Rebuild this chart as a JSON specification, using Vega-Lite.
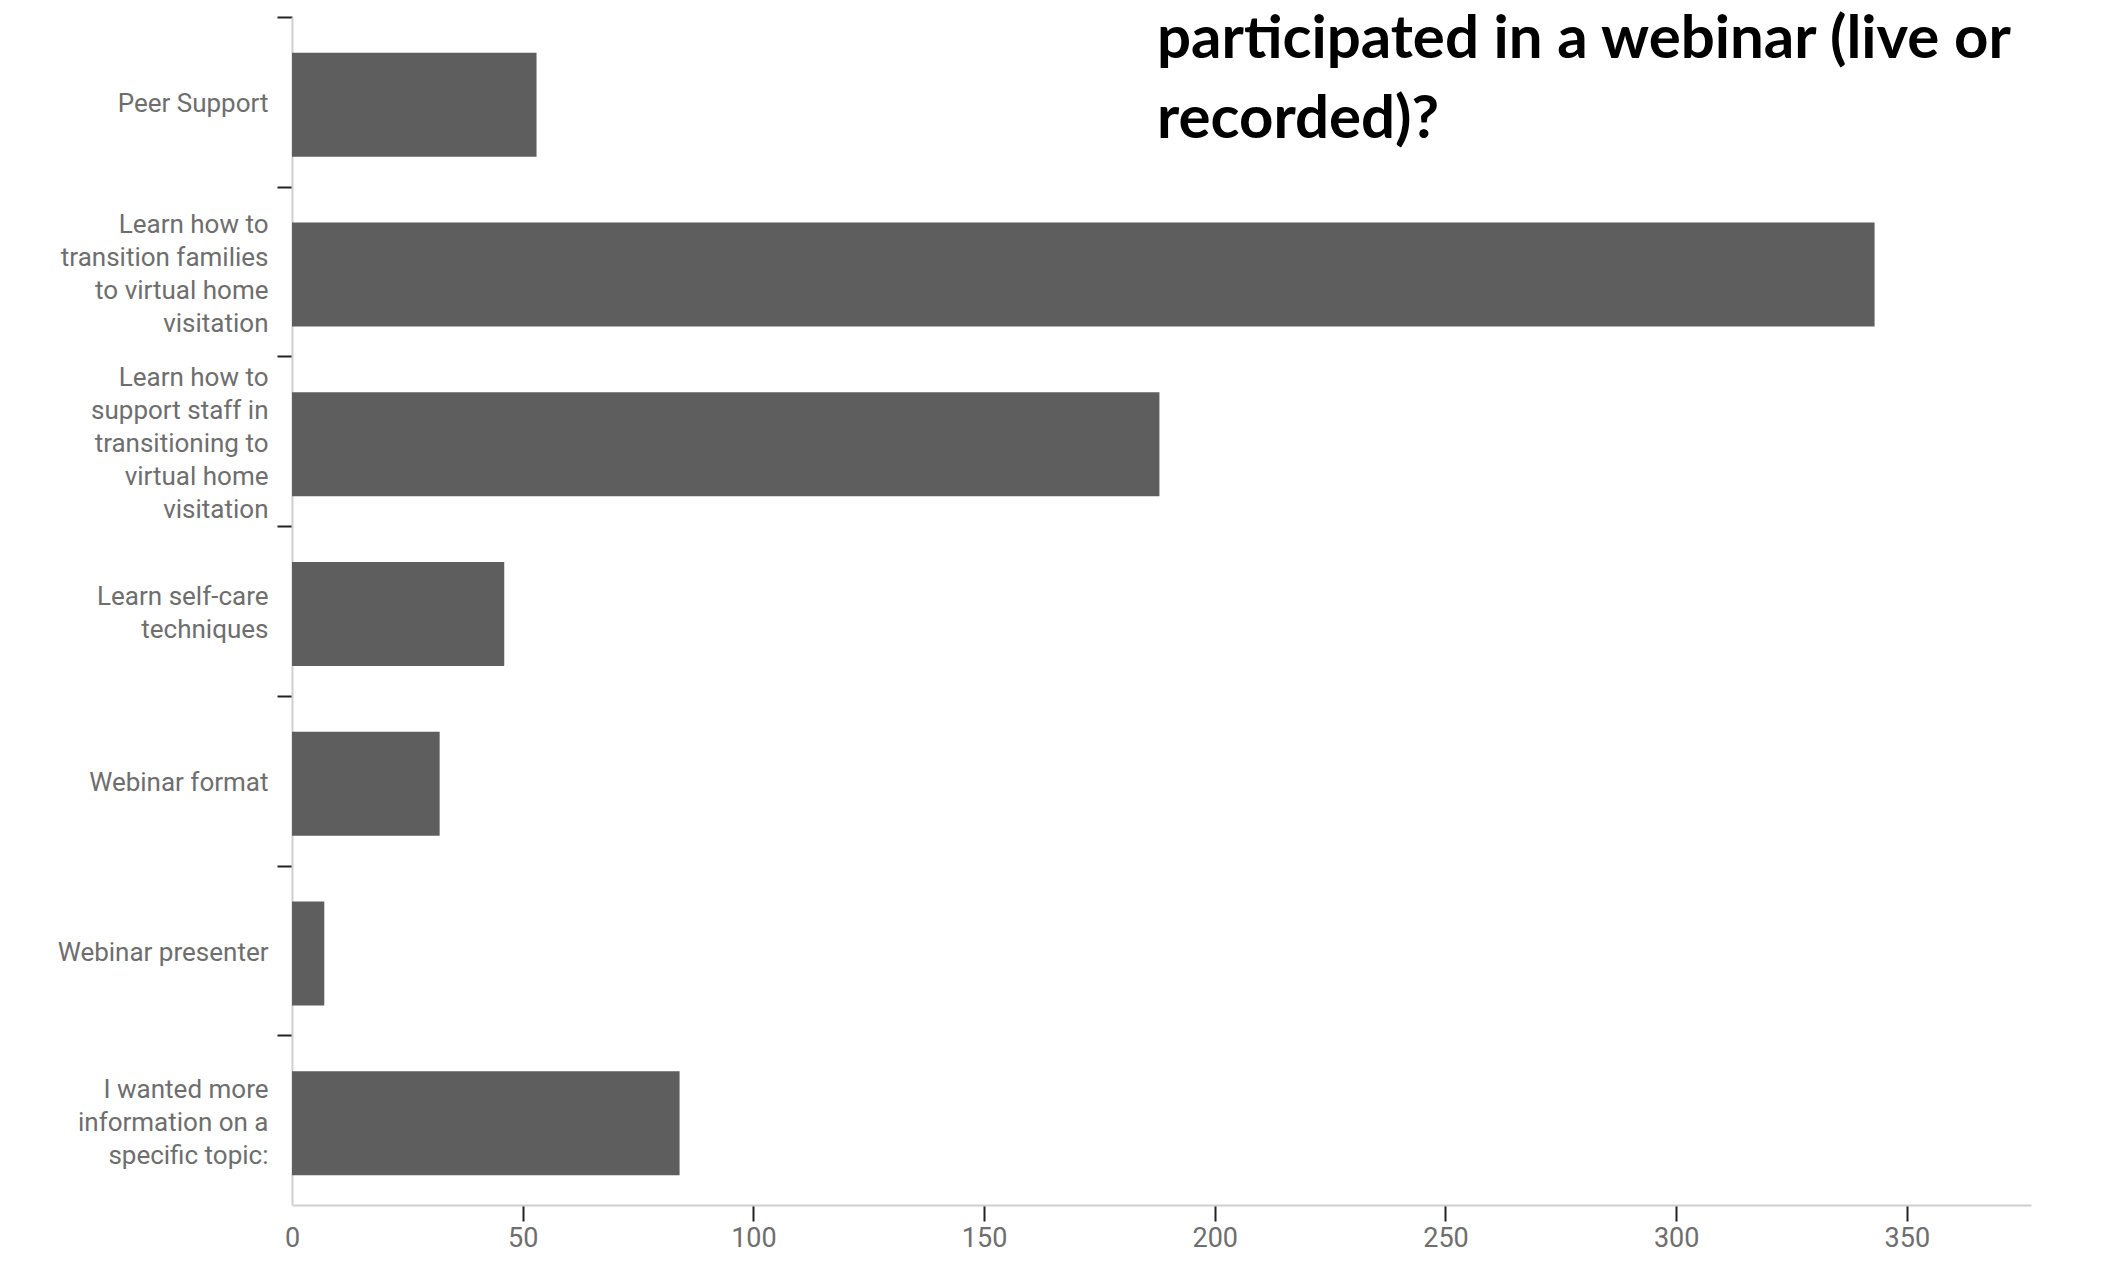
{
  "$schema": "https://vega.github.io/schema/vega-lite/v6.json",
  "width": 1739,
  "height": 1188,
  "autosize": {"type": "none"},
  "padding": {"left": 292, "top": 17, "right": 79, "bottom": 74},
  "background": "white",
  "title": {
    "text": ["participated in a webinar (live or", "recorded)?"],
    "anchor": "start",
    "frame": "group",
    "orient": "top",
    "offset": -135,
    "dx": 865,
    "font": "Lato",
    "fontSize": 60,
    "fontWeight": "bold",
    "color": "#000000",
    "lineHeight": 80
  },
  "data": {
    "values": [
      {"reason": "Peer Support", "count": 53},
      {"reason": "Learn how to|transition families|to virtual home|visitation", "count": 343},
      {"reason": "Learn how to|support staff in|transitioning to|virtual home|visitation", "count": 188},
      {"reason": "Learn self-care|techniques", "count": 46},
      {"reason": "Webinar format", "count": 32},
      {"reason": "Webinar presenter", "count": 7},
      {"reason": "I wanted more|information on a|specific topic:", "count": 84}
    ]
  },
  "mark": {"type": "bar", "color": "#5e5e5e", "yOffset": 3},
  "encoding": {
    "y": {
      "field": "reason",
      "type": "nominal",
      "sort": null,
      "scale": {"paddingInner": 0.387, "paddingOuter": 0.1935},
      "axis": {
        "title": null,
        "labelExpr": "split(datum.value, '|')",
        "labelFont": "Roboto",
        "labelFontSize": 26,
        "labelColor": "#6e6e6e",
        "labelLineHeight": 33,
        "labelLimit": 400,
        "labelPadding": 9,
        "tickSize": 15,
        "tickColor": "#222222",
        "tickWidth": 2,
        "tickOffset": -84.86,
        "labelOffset": {
          "condition": [
            {"test": "length(split(datum.value, '|')) == 5", "value": 20.86},
            {"test": "length(split(datum.value, '|')) == 4", "value": 37.36},
            {"test": "length(split(datum.value, '|')) == 3", "value": 53.86},
            {"test": "length(split(datum.value, '|')) == 2", "value": 70.36}
          ],
          "value": 86.86
        },
        "domainColor": "#cfcfcf",
        "domainWidth": 2,
        "grid": false
      }
    },
    "x": {
      "field": "count",
      "type": "quantitative",
      "scale": {"domain": [0, 376.9], "nice": false},
      "axis": {
        "title": null,
        "values": [0, 50, 100, 150, 200, 250, 300, 350],
        "labelFont": "Roboto",
        "labelFontSize": 27,
        "labelColor": "#6e6e6e",
        "labelPadding": 4,
        "labelFlush": false,
        "tickSize": 16,
        "tickColor": {"condition": {"test": "datum.value == 0", "value": "transparent"}, "value": "#222222"},
        "tickWidth": 2,
        "domainColor": "#cfcfcf",
        "domainWidth": 2,
        "grid": false
      }
    }
  },
  "config": {"view": {"stroke": null}}
}
